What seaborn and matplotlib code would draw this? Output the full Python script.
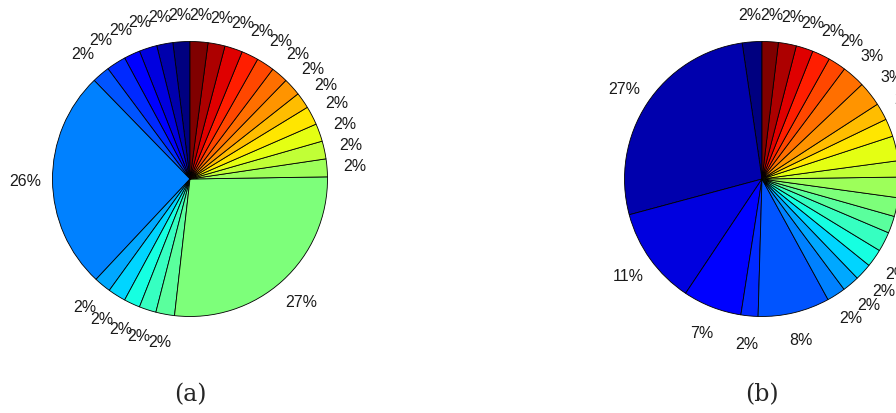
import numpy as np
import seaborn as sns
import matplotlib.pyplot as plt

sns.set_style("white")

# slice shares (percent), counter-clockwise from 12 o'clock
shares_a = [2.0, 1.9, 2.1, 1.9, 2.3, 2.1, 25.8, 2.0, 2.1, 1.9, 2.0, 2.2, 27.1,
            2.1, 2.1, 2.1, 2.2, 1.9, 2.1, 2.0, 2.1, 2.0, 2.1, 2.0, 2.1]
shares_b = [2.3, 26.8, 11.4, 6.9, 2.0, 8.4, 2.2, 2.0, 2.0, 2.1, 2.3, 2.0, 2.2,
            2.4, 1.9, 2.9, 2.1, 2.0, 2.9, 2.7, 2.1, 2.1, 2.0, 2.1, 1.9]
captions = ["(a)", "(b)"]

W, H = 896, 414
R = 137.5          # pie radius in pixels
centers = [(190, 180), (762, 180)]
lim = 1.5

fig = plt.figure(figsize=(W / 100, H / 100), dpi=100)
jet = plt.get_cmap("jet")  # seaborn won't hand out jet

for shares, (cx, cy), cap in zip([shares_a, shares_b], centers, captions):
    size = 2 * lim * R
    ax = fig.add_axes([(cx - size / 2) / W, (H - cy - size / 2) / H, size / W, size / H])
    cols = jet(np.linspace(0, 1, len(shares)))
    ax.pie(shares, colors=cols, startangle=90, counterclock=True,
           autopct='%1.0f%%', pctdistance=1.2,
           wedgeprops=dict(edgecolor='black', linewidth=0.6),
           textprops=dict(fontsize=11.5, family='Liberation Sans', color='#1a1a1a'))
    ax.set_xlim(-lim, lim)
    ax.set_ylim(-lim, lim)
    ax.set_aspect('equal')
    ax.axis('off')
    fig.text(cx / W, 1 - 395 / H, cap, ha='center', va='center',
             fontsize=17, family='DejaVu Serif')

fig.savefig("out.png", dpi=100)
